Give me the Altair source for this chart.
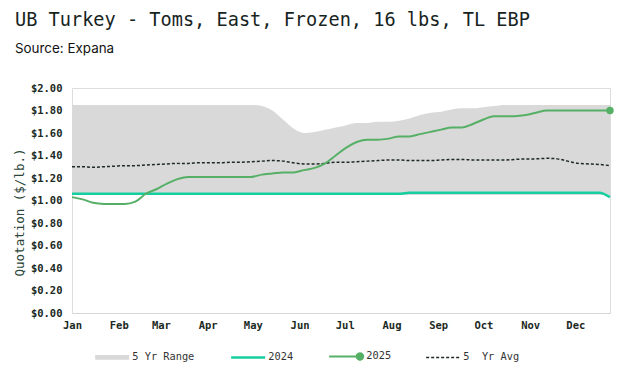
import altair as alt
import pandas as pd

# ---------------- data ----------------
MONTHS = ["Jan", "Feb", "Mar", "Apr", "May", "Jun",
          "Jul", "Aug", "Sep", "Oct", "Nov", "Dec"]
MONTH_START_DAY = [0, 31, 59, 90, 120, 151, 181, 212, 243, 273, 304, 334]

WEEKS = list(range(52))

RANGE_HI = [1.85, 1.85, 1.85, 1.85, 1.85, 1.85, 1.85, 1.85, 1.85, 1.85,
            1.85, 1.85, 1.85, 1.85, 1.85, 1.85, 1.85, 1.85, 1.84, 1.80,
            1.72, 1.64, 1.60, 1.61, 1.63, 1.65, 1.67, 1.69, 1.69, 1.70,
            1.70, 1.71, 1.73, 1.76, 1.78, 1.79, 1.81, 1.82, 1.82, 1.83,
            1.84, 1.85, 1.85, 1.85, 1.85, 1.85, 1.85, 1.85, 1.85, 1.85,
            1.85, 1.85]
RANGE_LO = [1.05, 1.05, 1.05, 1.05, 1.05, 1.05, 1.05, 1.05, 1.05, 1.05,
            1.05, 1.05, 1.05, 1.05, 1.05, 1.05, 1.05, 1.05, 1.05, 1.05,
            1.05, 1.05, 1.05, 1.05, 1.05, 1.05, 1.05, 1.05, 1.05, 1.05,
            1.05, 1.05, 1.05, 1.05, 1.05, 1.05, 1.05, 1.05, 1.05, 1.05,
            1.05, 1.05, 1.05, 1.05, 1.05, 1.05, 1.05, 1.05, 1.05, 1.05,
            1.05, 1.05]
Y2024 = [1.06, 1.06, 1.06, 1.06, 1.06, 1.06, 1.06, 1.06, 1.06, 1.06,
         1.06, 1.06, 1.06, 1.06, 1.06, 1.06, 1.06, 1.06, 1.06, 1.06,
         1.06, 1.06, 1.06, 1.06, 1.06, 1.06, 1.06, 1.06, 1.06, 1.06,
         1.06, 1.06, 1.07, 1.07, 1.07, 1.07, 1.07, 1.07, 1.07, 1.07,
         1.07, 1.07, 1.07, 1.07, 1.07, 1.07, 1.07, 1.07, 1.07, 1.07,
         1.07, 1.03]
Y2025 = [1.03, 1.01, 0.98, 0.97, 0.97, 0.97, 0.99, 1.06, 1.10, 1.15,
         1.19, 1.21, 1.21, 1.21, 1.21, 1.21, 1.21, 1.21, 1.23, 1.24,
         1.25, 1.25, 1.27, 1.29, 1.33, 1.40, 1.47, 1.52, 1.54, 1.54,
         1.55, 1.57, 1.57, 1.59, 1.61, 1.63, 1.65, 1.65, 1.68, 1.72,
         1.75, 1.75, 1.75, 1.76, 1.78, 1.80, 1.80, 1.80, 1.80, 1.80,
         1.80, 1.80]
AVG5 = [1.30, 1.30, 1.295, 1.30, 1.305, 1.31, 1.31, 1.315, 1.32, 1.325,
        1.33, 1.33, 1.335, 1.335, 1.335, 1.34, 1.34, 1.345, 1.35, 1.355,
        1.35, 1.335, 1.325, 1.325, 1.33, 1.34, 1.34, 1.345, 1.35, 1.355,
        1.36, 1.36, 1.355, 1.355, 1.355, 1.36, 1.365, 1.365, 1.36, 1.36,
        1.36, 1.36, 1.365, 1.37, 1.37, 1.375, 1.37, 1.35, 1.33, 1.325,
        1.32, 1.31]

SERIES = ["5 Yr Range", "2024", "2025", "5 Yr Avg"]
COLORS = ["#d9d9d9", "#16cfa0", "#55b065", "#1e2b25"]
Y_TICKS = [0.0, 0.2, 0.4, 0.6, 0.8, 1.0, 1.2, 1.4, 1.6, 1.8, 2.0]

# ---------------- tables ----------------
df_range = pd.DataFrame({"week": WEEKS, "lo": RANGE_LO, "hi": RANGE_HI,
                         "series": "5 Yr Range"})
df_lines = pd.concat([
    pd.DataFrame({"week": WEEKS, "value": Y2024, "series": "2024"}),
    pd.DataFrame({"week": WEEKS, "value": AVG5, "series": "5 Yr Avg"}),
    pd.DataFrame({"week": WEEKS, "value": Y2025, "series": "2025"}),
], ignore_index=True)

month_ticks = [d / 7 for d in MONTH_START_DAY]
month_expr = "[" + ",".join("'%s'" % m for m in MONTHS) + "][round(datum.value*12/52)]"

MONO = "DejaVu Sans Mono"
DARK = "#1b2a23"

x_enc = alt.X("week:Q",
              scale=alt.Scale(domain=[0, 51], nice=False, zero=False),
              axis=alt.Axis(values=month_ticks, labelExpr=month_expr, title=None,
                            grid=False, ticks=False, domainColor="#d6d6d6",
                            labelFlush=False, labelOverlap=False, labelPadding=7,
                            labelFont=MONO, labelFontSize=10.5, labelFontWeight="bold",
                            labelColor=DARK))
y_scale = alt.Scale(domain=[0, 2], nice=False)
y_axis = alt.Axis(values=Y_TICKS, format="$.2f", title="Quotation ($/lb.)",
                  grid=False, ticks=False, domain=False, labelPadding=10,
                  labelFont=MONO, labelFontSize=10.5, labelFontWeight="bold",
                  labelColor=DARK, titleFont=MONO, titleFontSize=12.5,
                  titleFontWeight="normal", titleColor="#2b4538", titlePadding=4,
                  titleY=124)

shape_expr = ("datum.value == '5 Yr Range' ? 'M-1,-0.14H1V0.14H-1Z' : "
              "datum.value == '2025' ? 'M-1,0H0.62M1,0A0.19,0.19,0,1,1,0.62,0A0.19,0.19,0,1,1,1,0Z' : "
              "'M-1,0H1'")
fill_expr = ("datum.value == '5 Yr Range' ? '#d9d9d9' : "
             "datum.value == '2025' ? '#55b065' : 'transparent'")
stroke_expr = ("datum.value == '2024' ? '#16cfa0' : datum.value == '2025' ? '#55b065' : "
               "datum.value == '5 Yr Avg' ? '#1e2b25' : 'transparent'")
sw_expr = ("datum.value == '5 Yr Range' ? 0 : datum.value == '2024' ? 2.5 : "
           "datum.value == '2025' ? 2 : 1.5")
dash_expr = "datum.value == '5 Yr Avg' ? [3, 2] : [1, 0]"

legend = alt.Legend(
    title=None, orient="none", direction="horizontal", legendX=35, legendY=263,
    columnPadding=31, labelOffset=15, symbolSize=1156, padding=0,
    labelFont=MONO, labelFontSize=10.3, labelColor="#333333",
    labelExpr="datum.label == '5 Yr Avg' ? '5\u00a0\u00a0Yr Avg' : datum.label",
    symbolType=alt.ExprRef(expr=shape_expr),
    symbolFillColor=alt.ExprRef(expr=fill_expr),
    symbolStrokeColor=alt.ExprRef(expr=stroke_expr),
    symbolStrokeWidth=alt.ExprRef(expr=sw_expr),
    symbolDash=alt.ExprRef(expr=dash_expr),
    symbolOpacity=1,
)
color_enc = alt.Color("series:N", scale=alt.Scale(domain=SERIES, range=COLORS),
                      legend=legend)

area = alt.Chart(df_range).mark_area(interpolate="monotone", opacity=1).encode(
    x=x_enc,
    y=alt.Y("hi:Q", scale=y_scale, axis=y_axis),
    y2="lo:Q",
    color=color_enc,
)

def line_layer(name, width, dash=None):
    kw = dict(interpolate="monotone", strokeWidth=width)
    if dash:
        kw["strokeDash"] = dash
    return alt.Chart(df_lines).transform_filter(
        alt.datum.series == name
    ).mark_line(**kw).encode(
        x=x_enc,
        y=alt.Y("value:Q", scale=y_scale, axis=y_axis),
        color=color_enc,
    )

l2024 = line_layer("2024", 2.5)
lavg = line_layer("5 Yr Avg", 1.5, [3, 2])
l2025 = line_layer("2025", 2)

endpoint = alt.Chart(df_lines).transform_filter(
    (alt.datum.series == "2025") & (alt.datum.week == 51)
).mark_point(filled=True, size=55, opacity=1).encode(
    x=x_enc,
    y=alt.Y("value:Q", scale=y_scale, axis=y_axis),
    color=color_enc,
)

chart = alt.layer(area, l2024, lavg, l2025, endpoint).properties(
    width=538, height=225,
    autosize=alt.AutoSizeParams(type="none"),
    padding={"left": 64, "top": 80, "right": 5, "bottom": 64},
    title=alt.TitleParams(
        "UB Turkey - Toms, East, Frozen, 16 lbs, TL EBP",
        subtitle=["Source: Expana"],
        anchor="start", frame="group", dx=-57, offset=28,
        font=MONO, fontSize=18.6, fontWeight="normal", color="#17241e",
        subtitleFont="Inter", subtitleFontSize=13.4, subtitleColor="#111111",
        subtitlePadding=12,
    ),
).configure_view(stroke=None).configure(background="white")

chart.save("out.html", embed_options={"renderer": "svg", "actions": False})
